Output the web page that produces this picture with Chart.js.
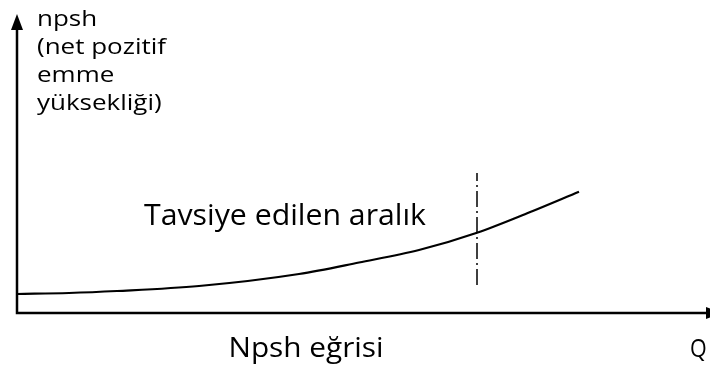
<!DOCTYPE html>
<html>
<head>
<meta charset="utf-8">
<script src="https://cdn.jsdelivr.net/npm/chart.js@4"></script>
<style>
  body { margin: 0; background: #fff; }
  #wrap { width: 710px; height: 367px; }
</style>
</head>
<body>
<div id="wrap"><canvas id="npsh"></canvas></div>
<script>
// npsh egrisi, values (Q and npsh in arbitrary units)
var q_vals = [0, 52, 100, 182, 282, 342, 402, 460, 512, 562];
var npsh_vals = [19, 20, 22, 27, 39, 50.5, 63, 80.3, 100.5, 121.3];
var limit_q = 460;
var limit_range = [28, 140];
var yLabel = ['npsh', '(net pozitif', 'emme', 'yüksekliği)'];
var rangeLabel = 'Tavsiye edilen aralık';
var curveLabel = 'Npsh eğrisi';
var xLabel = 'Q';

var curve = [], limit = [];
for (var i = 0; i < q_vals.length; i++) {
    curve.push({ x: q_vals[i], y: npsh_vals[i] });
}
limit.push({ x: limit_q, y: limit_range[0] });
limit.push({ x: limit_q, y: limit_range[1] });

var FONT = '"Open Sans", "Noto Sans", sans-serif';

// original font is a bit wider, stretch the text in x to the same width
function fitText(c, txt, x, y, sx) {
    c.save();
    c.translate(x, y);
    c.scale(sx, 1);
    c.fillText(txt, 0, 0);
    c.restore();
}

var axesPlugin = {
    id: 'axesPlugin',
    afterDraw: function (chart) {
        var c = chart.ctx, a = chart.chartArea;
        c.save();
        c.strokeStyle = '#000';
        c.fillStyle = '#000';
        c.lineWidth = 2.5;
        // axes
        c.beginPath();
        c.moveTo(a.left, 28);
        c.lineTo(a.left, a.bottom);
        c.lineTo(a.right, a.bottom);
        c.stroke();
        // arrow heads
        c.beginPath();
        c.moveTo(a.left, 14);
        c.lineTo(a.left - 6, 30);
        c.lineTo(a.left + 6, 30);
        c.closePath();
        c.fill();
        c.beginPath();
        c.moveTo(a.right + 15, a.bottom);
        c.lineTo(a.right, a.bottom - 6);
        c.lineTo(a.right, a.bottom + 6);
        c.closePath();
        c.fill();

        c.fillStyle = '#000';
        c.textBaseline = 'alphabetic';
        c.textAlign = 'left';

        c.font = '500 21.5px ' + FONT;
        var sx = 129 / c.measureText(yLabel[1]).width;
        var base = [26, 53.5, 81.5, 109.5];
        for (var k = 0; k < yLabel.length; k++) {
            fitText(c, yLabel[k], 37, base[k], sx);
        }
        c.font = '500 30px ' + FONT;
        fitText(c, rangeLabel, 144, 224.5, 282 / c.measureText(rangeLabel).width);
        c.font = '500 27px ' + FONT;
        fitText(c, curveLabel, 228.5, 357, 155 / c.measureText(curveLabel).width);
        c.font = '500 25px ' + FONT;
        fitText(c, xLabel, 690, 357, 16.7 / c.measureText(xLabel).width);
        c.restore();
    }
};

var ctx = document.getElementById('npsh').getContext('2d');
var myChart = new Chart(ctx, {
    type: 'scatter',
    data: {
        datasets: [{
            label: 'npsh',
            data: curve,
            showLine: true,
            borderColor: '#000',
            borderWidth: 2.2,
            pointRadius: 0,
            cubicInterpolationMode: 'monotone'
        }, {
            label: 'limit',
            data: limit,
            showLine: true,
            borderColor: '#000',
            borderWidth: 1.5,
            borderDash: [16, 4, 2, 4],
            pointRadius: 0
        }]
    },
    options: {
        responsive: true,
        maintainAspectRatio: false,
        animation: false,
        layout: { padding: { left: 17, top: 14, right: 4, bottom: 54 } },
        plugins: { legend: { display: false }, tooltip: { enabled: false } },
        scales: {
            x: { type: 'linear', display: false, min: 0, max: 689 },
            y: { type: 'linear', display: false, min: 0, max: 299 }
        }
    },
    plugins: [axesPlugin]
});
</script>
</body>
</html>
